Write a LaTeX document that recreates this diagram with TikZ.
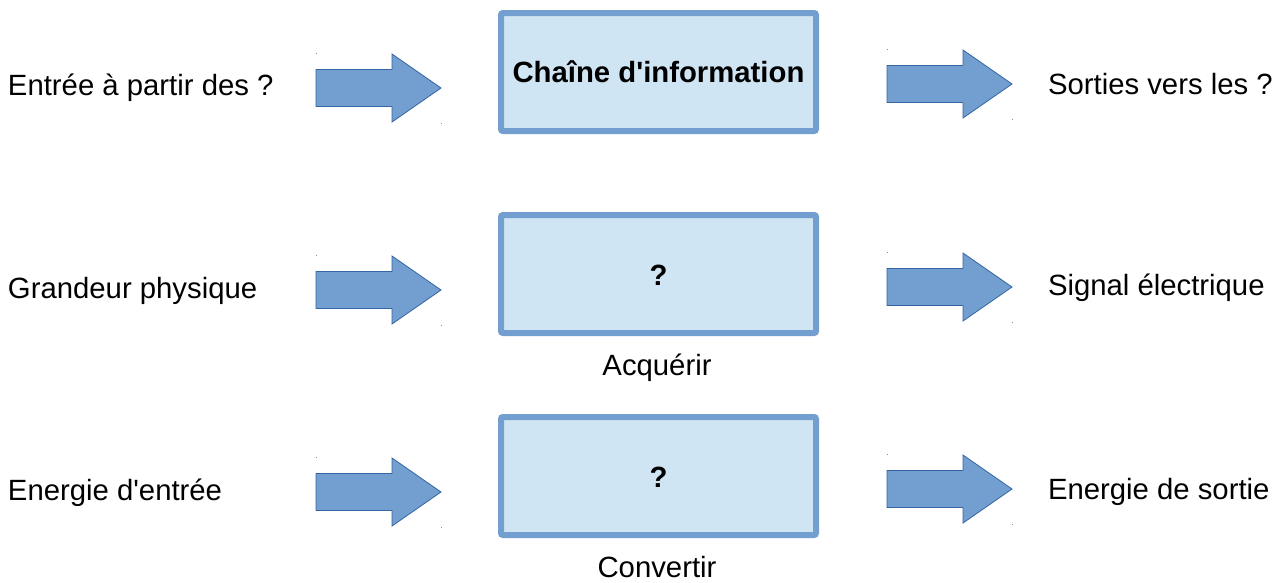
\documentclass[tikz,border=0pt]{standalone}
\usepackage{fontspec}
\setmainfont{Liberation Sans}
\definecolor{boxfill}{HTML}{CFE5F3}
\definecolor{boxline}{HTML}{729FCF}
\definecolor{arrfill}{HTML}{729FCF}
\definecolor{arrline}{HTML}{3465A4}
\newcommand{\apos}{\textquotesingle}
\tikzset{
  bigtext/.style={font=\fontsize{29.3}{35}\selectfont, inner sep=0pt, outer sep=0pt},
  boldtext/.style={font=\fontsize{29.3}{35}\selectfont\bfseries, inner sep=0pt, outer sep=0pt},
  blockbox/.style={draw=boxline, line width=6pt, fill=boxfill, rounded corners=2pt,
    minimum width=315pt, minimum height=118pt, inner sep=0pt},
  fatarrow/.style={fill=arrfill, draw=arrline, line width=0.8pt, line join=miter},
  tinydot/.style={fill=black!45, draw=none}
}
\newcommand{\fatarrowat}[2]{% left x, tip y
  \path[fatarrow] (#1,#2-18.5) -- (#1+76,#2-18.5) -- (#1+76,#2-34) -- (#1+125,#2)
    -- (#1+76,#2+34) -- (#1+76,#2+18.5) -- (#1,#2+18.5) -- cycle;
  \fill[tinydot] (#1-0.5,#2-35.5) rectangle (#1+0.5,#2-34.5);
  \fill[tinydot] (#1+124.5,#2+34.5) rectangle (#1+125.5,#2+35.5);
}
\begin{document}
\begin{tikzpicture}[x=1pt,y=-1pt]
\useasboundingbox[fill=white] (0,0) rectangle (1284,582);

% boxes
\node[blockbox] (b1) at (658.5,72) {};
\node[blockbox] (b2) at (658.5,274) {};
\node[blockbox] (b3) at (658.5,476) {};
\node[boldtext, anchor=base] (t1) at (658.5,82) {Chaîne d\apos information};
\node[boldtext, anchor=base] (t2) at (658.5,285) {?};
\node[boldtext, anchor=base] (t3) at (658.5,487) {?};
\node[bigtext, anchor=base] (l2) at (657,375) {Acquérir};
\node[bigtext, anchor=base] (l3) at (657,577) {Convertir};

% left texts
\node[bigtext, anchor=base west] (in1) at (8,95) {Entrée à partir des ?};
\node[bigtext, anchor=base west] (in2) at (8,298) {Grandeur physique};
\node[bigtext, anchor=base west] (in3) at (8,500) {Energie d\apos entrée};

% right texts
\node[bigtext, anchor=base west] (out1) at (1048,94) {Sorties vers les ?};
\node[bigtext, anchor=base west] (out2) at (1048,295) {Signal électrique};
\node[bigtext, anchor=base west] (out3) at (1048,499) {Energie de sortie};

% arrows
\fatarrowat{316}{88}
\fatarrowat{316}{290}
\fatarrowat{316}{492}
\fatarrowat{887}{84}
\fatarrowat{887}{287}
\fatarrowat{887}{489}
\end{tikzpicture}
\end{document}
